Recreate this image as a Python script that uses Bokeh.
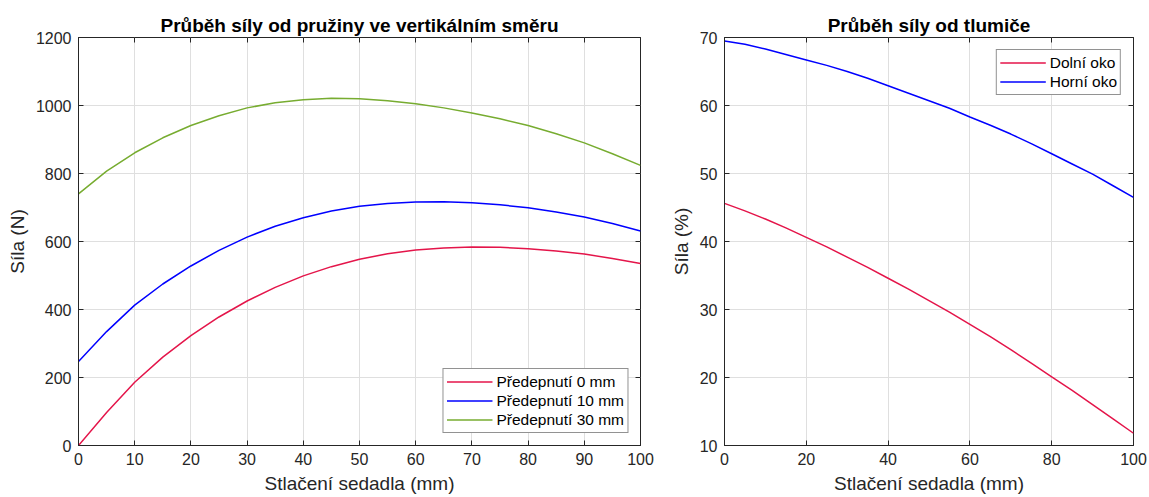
from bokeh.plotting import figure
from bokeh.layouts import row
from bokeh.models import Range1d, FixedTicker, LinearAxis, Legend, LegendItem
from bokeh.embed import file_html
from bokeh.resources import INLINE

# ---- data: left chart (spring force) ----
x_mm = [0, 5, 10, 15, 20, 25, 30, 35, 40, 45, 50, 55, 60, 65, 70, 75, 80, 85, 90, 95, 100]
f_pre0 = [0, 97, 186, 260, 323, 378, 425, 465, 499, 526, 548, 564, 575, 581, 584, 583, 579, 572, 563, 550, 535]
f_pre10 = [247, 335, 413, 475, 528, 574, 613, 645, 670, 690, 704, 712, 716, 717, 714, 708, 699, 687, 672, 653, 631]
f_pre30 = [740, 807, 861, 905, 941, 970, 993, 1008, 1017, 1021, 1020, 1014, 1005, 993, 978, 961, 941, 917, 890, 858, 824]

# ---- data: right chart (damper force) ----
d_lower = [45.6, 44.5, 43.3, 42.0, 40.6, 39.2, 37.7, 36.2, 34.6, 33.0, 31.3, 29.6, 27.8, 26.0, 24.1, 22.1, 20.1, 18.1, 16.0, 13.9, 11.8]
d_upper = [69.5, 69.0, 68.3, 67.5, 66.7, 65.9, 65.0, 64.0, 62.9, 61.8, 60.7, 59.6, 58.3, 57.1, 55.8, 54.4, 52.9, 51.4, 49.9, 48.2, 46.5]

left_xticks = [0, 10, 20, 30, 40, 50, 60, 70, 80, 90, 100]
left_yticks = [0, 200, 400, 600, 800, 1000, 1200]
right_xticks = [0, 20, 40, 60, 80, 100]
right_yticks = [10, 20, 30, 40, 50, 60, 70]

RED = "#E4154A"
BLUE = "#0000FF"
GREEN = "#77AC30"
AX = "#262626"
FONT = "Liberation Sans"


def style(p, xticks, yticks, xlabel, ylabel):
    p.outline_line_color = AX
    p.outline_line_width = 1
    p.title.text_font = FONT
    p.title.text_font_size = "19px"
    p.title.text_font_style = "bold"
    p.title.text_color = "#000000"
    p.title.align = "center"
    p.title.offset = 0
    p.title.standoff = 4
    for ax, ticks in ((p.xaxis[0], xticks), (p.yaxis[0], yticks)):
        ax.ticker = FixedTicker(ticks=ticks)
        ax.major_tick_in = 5
        ax.major_tick_out = 0
        ax.minor_tick_line_color = None
        ax.axis_line_color = AX
        ax.major_tick_line_color = AX
        ax.major_label_text_font = FONT
        ax.major_label_text_font_size = "16px"
        ax.major_label_text_color = AX
        ax.axis_label_text_font = FONT
        ax.axis_label_text_font_size = "19px"
        ax.axis_label_text_font_style = "normal"
        ax.axis_label_text_color = AX
    p.xaxis[0].axis_label = xlabel
    p.yaxis[0].axis_label = ylabel
    p.xaxis[0].major_label_standoff = 7
    p.xaxis[0].axis_label_standoff = 5
    p.yaxis[0].major_label_standoff = 7
    p.yaxis[0].axis_label_standoff = 5
    # top / right axes: tick marks only, no labels drawn
    for loc, ticks in (("above", xticks), ("right", yticks)):
        ax = LinearAxis(ticker=FixedTicker(ticks=ticks), major_tick_in=5, major_tick_out=0,
                        major_label_text_font_size="1px", major_label_text_color=None,
                        minor_tick_line_color=None, axis_line_color=None,
                        major_tick_line_color=AX, major_label_standoff=0)
        p.add_layout(ax, loc)
    p.xgrid.ticker = FixedTicker(ticks=xticks)
    p.ygrid.ticker = FixedTicker(ticks=yticks)
    p.grid.grid_line_color = "#dfdfdf"
    p.grid.grid_line_width = 1


p1 = figure(width=660, height=496, output_backend="svg", toolbar_location=None,
            x_range=Range1d(0, 100), y_range=Range1d(0, 1200),
            title="Průběh síly od pružiny ve vertikálním směru",
            min_border_left=78, min_border_right=20, min_border_top=37, min_border_bottom=50)
style(p1, left_xticks, left_yticks, "Stlačení sedadla (mm)", "Síla (N)")
r0 = p1.line(x_mm, f_pre0, line_color=RED, line_width=1.5)
r10 = p1.line(x_mm, f_pre10, line_color=BLUE, line_width=1.5)
r30 = p1.line(x_mm, f_pre30, line_color=GREEN, line_width=1.5)
leg1 = Legend(items=[LegendItem(label="Předepnutí 0 mm", renderers=[r0]),
                     LegendItem(label="Předepnutí 10 mm", renderers=[r10]),
                     LegendItem(label="Předepnutí 30 mm", renderers=[r30])],
              location="bottom_right")
p1.add_layout(leg1, "center")

p2 = figure(width=488, height=496, output_backend="svg", toolbar_location=None,
            x_range=Range1d(0, 100), y_range=Range1d(10, 70),
            title="Průběh síly od tlumiče",
            min_border_left=64, min_border_right=15, min_border_top=37, min_border_bottom=50)
style(p2, right_xticks, right_yticks, "Stlačení sedadla (mm)", "Síla (%)")
rl = p2.line(x_mm, d_lower, line_color=RED, line_width=1.5)
ru = p2.line(x_mm, d_upper, line_color=BLUE, line_width=1.5)
leg2 = Legend(items=[LegendItem(label="Dolní oko", renderers=[rl]),
                     LegendItem(label="Horní oko", renderers=[ru])],
              location="top_right")
p2.add_layout(leg2, "center")

for lg in (leg1, leg2):
    lg.margin = 12
    lg.padding = 3
    lg.spacing = 0
    lg.glyph_width = 46
    lg.glyph_height = 19
    lg.label_height = 19
    lg.label_standoff = 4
    lg.label_text_font = FONT
    lg.label_text_font_size = "15.5px"
    lg.label_text_color = "#000000"
    lg.border_line_color = AX
    lg.border_line_width = 1
    lg.background_fill_color = "white"
    lg.background_fill_alpha = 1

layout = row(p1, p2, spacing=0)
open("out.html", "w").write(file_html(layout, INLINE))
